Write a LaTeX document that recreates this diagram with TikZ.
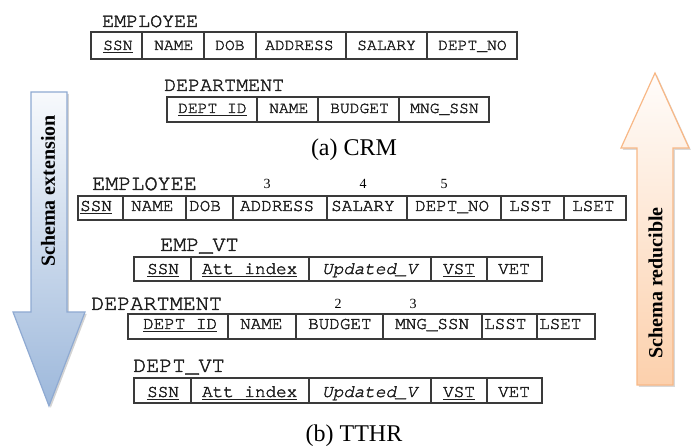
\documentclass[tikz,border=0pt]{standalone}
\usepackage{fontspec}
\setmainfont{Liberation Serif}
\newfontfamily\courier{TeX Gyre Cursor}[RawFeature={embolden=2}]
\usetikzlibrary{shadows}

\definecolor{extfill}{HTML}{9DB8DB}
\definecolor{extline}{HTML}{8FAAD2}
\definecolor{redfill}{HTML}{FCD0AC}
\definecolor{redline}{HTML}{F8B886}
\definecolor{gridline}{HTML}{3A3A3A}

% key attribute: text with a rule beneath it
\newsavebox\keyboxreg
\newcommand\keyattr[1]{\sbox\keyboxreg{#1}\rlap{\rule[-3pt]{\wd\keyboxreg}{1pt}}\usebox\keyboxreg}

\tikzset{
  cellbox/.style={draw=gridline, line width=1.1pt, inner sep=0pt, outer sep=0pt},
  crmtext/.style={font=\courier\fontsize{16.3}{19}\selectfont, inner sep=0pt, text=black!88},
  tthrtext/.style={font=\courier\fontsize{17.6}{20}\selectfont, inner sep=0pt, text=black!88},
  crmtitle/.style={font=\courier\fontsize{20}{24}\selectfont, inner sep=0pt, anchor=base west, text=black!88},
  tthrtitle/.style={font=\courier\fontsize{21.8}{26}\selectfont, inner sep=0pt, anchor=base west, text=black!88},
  idx/.style={font=\fontsize{14}{16}\selectfont, inner sep=0pt, anchor=base},
  caption/.style={font=\fontsize{24}{28}\selectfont, inner sep=0pt, anchor=base},
  arrowtext/.style={font=\bfseries\fontsize{20}{24}\selectfont, rotate=90, inner sep=0pt},
  extarrow/.style={draw=extline, line width=1.2pt, top color=white!92!extfill, bottom color=extfill,
    drop shadow={shadow xshift=1.8pt, shadow yshift=-1.8pt, opacity=0.35}},
  redarrow/.style={draw=redline, line width=1.2pt, top color=white!95!redfill, bottom color=redfill,
    drop shadow={shadow xshift=1.8pt, shadow yshift=-1.8pt, opacity=0.3}},
}

% one relation row: name prefix, text style, top, bottom, baseline, cells x0/x1/text-x/text
\newcommand\relrow[6]{%
  \foreach \xa/\xb/\tx/\txt [count=\i] in {#6} {
    \node[cellbox, minimum width=\xb-\xa, minimum height=#4-#3, anchor=north west] (#1c\i) at (\xa,#3) {};
    \node[#2, anchor=base west] (#1t\i) at (\tx,#5) {\txt};
  }}

\begin{document}
\begin{tikzpicture}[x=1pt,y=-1pt]
\useasboundingbox (0,0) rectangle (694,446);

% direction arrows
\path[extarrow] (31,92) -- (67,92) -- (67,312) -- (85,312) -- (49,406) -- (13,312) -- (31,312) -- cycle;
\node[arrowtext] (ext) at (48,191) {Schema extension};
\path[redarrow] (637,385) -- (673,385) -- (673,148) -- (689,148) -- (655,73) -- (621,148) -- (637,148) -- cycle;
\node[arrowtext] (red) at (655.5,283) {Schema reducible};

% (a) CRM
\node[crmtitle] (crmemp) at (102,27) {EMPLOYEE};
\relrow{ce}{crmtext}{32}{59}{50}{91/142/103/\keyattr{SSN}, 142/204/154/NAME, 204/256/215/DOB, 256/346/265/ADDRESS, 346/427/357/SALARY, 427/517/438/DEPT\_NO}
\node[crmtitle] (crmdep) at (164,91) {DEPARTMENT};
\relrow{cd}{crmtext}{97}{122}{113}{167/257/178/\keyattr{DEPT ID}, 257/318/269/NAME, 318/399/330/BUDGET, 399/489/410/MNG\_SSN}
\node[caption] (capa) at (354,156) {(a) CRM};

% (b) TTHR
\node[tthrtitle] (temp) at (92,190) {EMPLOYEE};
\node[idx] (ti3) at (267,189) {3};
\node[idx] (ti4) at (363,189) {4};
\node[idx] (ti5) at (444,189) {5};
\relrow{te}{tthrtext}{196}{220}{211}{78/123/80/\keyattr{SSN}, 123/186/131/NAME, 186/233/189/DOB, 233/327/240/ADDRESS, 327/407/331/SALARY, 407/501/415/DEPT\_NO, 501/564/509/LSST, 564/626/572/LSET}

\node[tthrtitle] (tevt) at (160,251) {EMP\_VT};
\relrow{tv}{tthrtext}{257}{281}{274}{134/191/147/\keyattr{SSN}, 191/309/202/\keyattr{Att index}, 309/431/322/\textit{Updated\_V}, 431/487/443/\keyattr{VST}, 487/542/498/VET}

\node[tthrtitle] (tdep) at (91,310) {DEPARTMENT};
\node[idx] (td2) at (338,309) {2};
\node[idx] (td3) at (413,309) {3};
\relrow{td}{tthrtext}{314}{339}{329}{128/228/143/\keyattr{DEPT ID}, 228/296/240/NAME, 296/383/308/BUDGET, 383/482/395/MNG\_SSN, 482/537/484/LSST, 537/595/539/LSET}

\node[tthrtitle] (tdvt) at (133,372) {DEPT\_VT};
\relrow{tw}{tthrtext}{378}{403}{397}{134/191/147/\keyattr{SSN}, 191/309/202/\keyattr{Att index}, 309/431/322/\textit{Updated\_V}, 431/487/443/\keyattr{VST}, 487/542/498/VET}

\node[caption] (capb) at (354,442) {(b) TTHR};
\end{tikzpicture}
\end{document}
